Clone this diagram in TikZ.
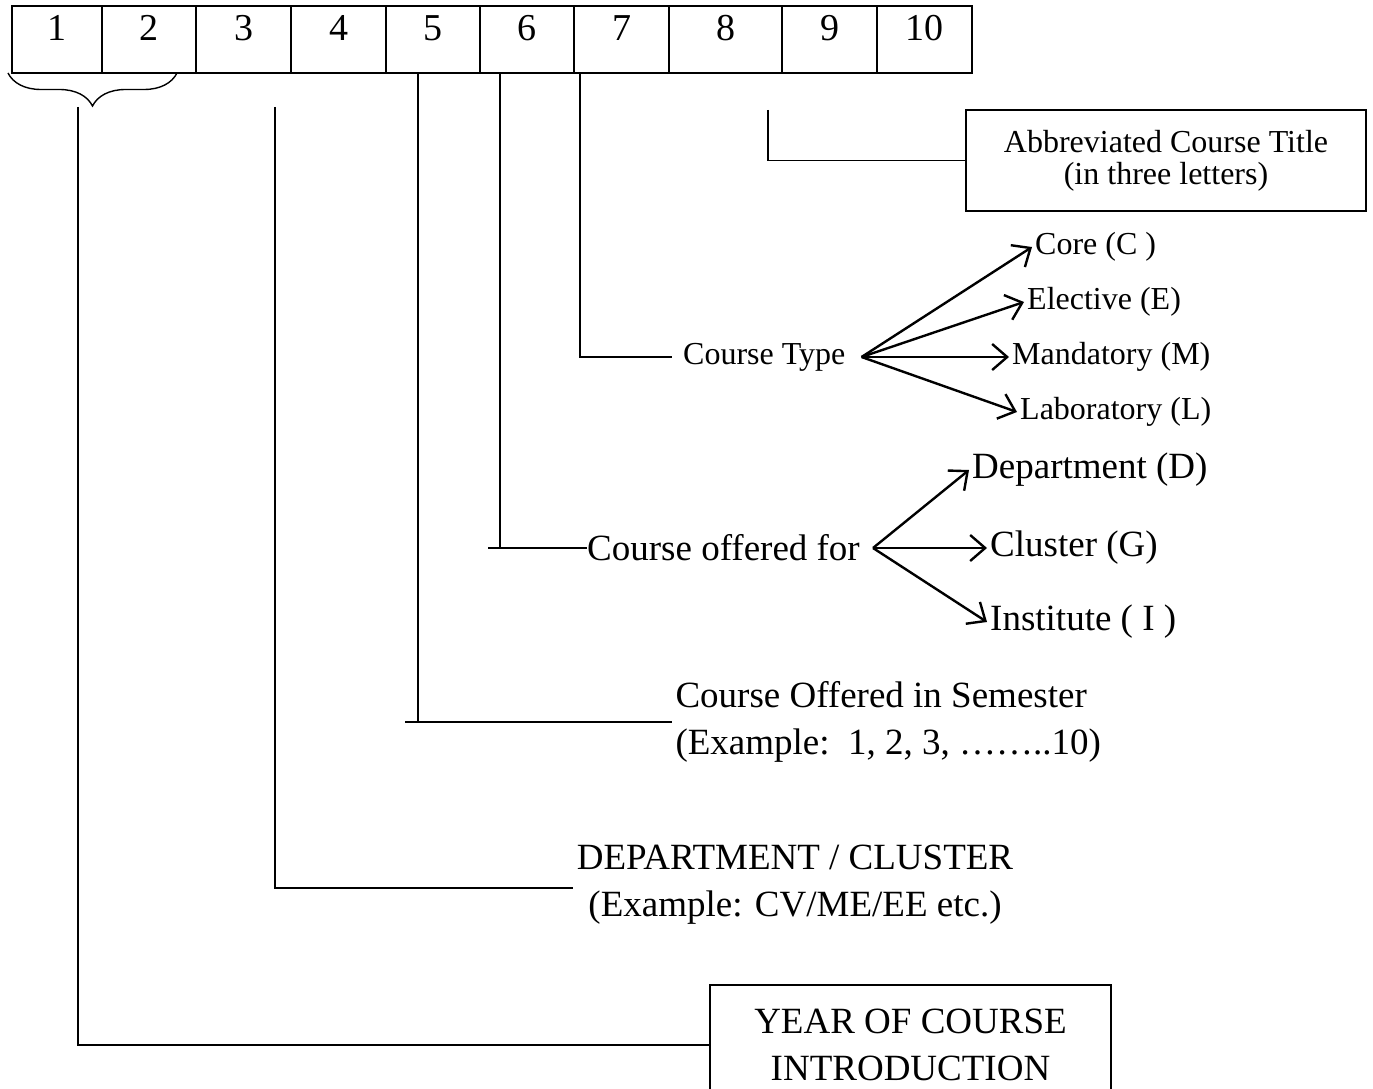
\documentclass[tikz,border=0pt]{standalone}
\usepackage{fontspec}
\setmainfont{Liberation Serif}
\usetikzlibrary{positioning,arrows.meta,decorations.pathreplacing}

\tikzset{
  cell/.style={draw, line width=1.6pt, minimum height=67pt, outer sep=0pt, inner sep=0pt,
    text height=26pt, text depth=23pt, font=\fontsize{38}{40}\selectfont},
  lead/.style={line width=1.4pt},
  fan/.style={line width=2.4pt, -{Straight Barb[length=15pt,width=26pt,line width=2.4pt]}},
  big/.style={font=\fontsize{37}{47}\selectfont},
  small/.style={font=\fontsize{32}{38}\selectfont},
  frame/.style={draw, line width=1.6pt},
}

\begin{document}
\begin{tikzpicture}[x=1pt,y=-1pt]
\useasboundingbox (0,0) rectangle (1373,1089);

% the ten places of the code
\node[cell, minimum width=90pt, anchor=north west] (c1) at (12,6) {1};
\node[cell, minimum width=94pt, right=0pt of c1] (c2) {2};
\node[cell, minimum width=95pt, right=0pt of c2] (c3) {3};
\node[cell, minimum width=95pt, right=0pt of c3] (c4) {4};
\node[cell, minimum width=94pt, right=0pt of c4] (c5) {5};
\node[cell, minimum width=94pt, right=0pt of c5] (c6) {6};
\node[cell, minimum width=95pt, right=0pt of c6] (c7) {7};
\node[cell, minimum width=113pt, right=0pt of c7] (c8) {8};
\node[cell, minimum width=95pt, right=0pt of c8] (c9) {9};
\node[cell, minimum width=95pt, right=0pt of c9] (c10) {10};

\draw[lead, decorate, decoration={brace, amplitude=33pt}] (177,73) -- (8,73);

% year
\node[frame, big, align=center, minimum width=401pt, minimum height=120pt] (yearbox) at (910.5,1045) {YEAR OF COURSE\\INTRODUCTION};
\coordinate (yrtop) at (78,107);
\draw[lead] (yrtop) |- (yearbox.west);

% department
\node[big, align=center] (deptnode) at (795,885) {DEPARTMENT / CLUSTER\\(Example: CV/ME/EE etc.)};
\coordinate (t3) at (275,107);
\draw[lead] (t3) |- ([yshift=-3pt]deptnode.west);

% semester
\node[big, align=left, anchor=west] (semnode) at (672,722) {Course Offered in Semester\\(Example:\ \ 1, 2, 3, ……..10)};
\coordinate (t5) at (418,73);
\draw[lead] (t5) -- (t5 |- semnode.west);
\draw[lead] ([xshift=-13pt]t5 |- semnode.west) -- (semnode.west);

% offered for
\node[big, anchor=west, inner xsep=0pt] (offer) at (587,548) {Course offered for};
\coordinate (t6) at (500,73);
\draw[lead] (t6) -- (t6 |- offer.west);
\draw[lead] ([xshift=-12pt]t6 |- offer.west) -- (offer.west);
\coordinate (offan) at ([xshift=13pt]offer.east);
\node[big, anchor=west, inner xsep=3pt] (dep) at (969,470) {Department (D)};
\node[big, anchor=west, inner xsep=3pt] (clu) at (987,548) {Cluster (G)};
\node[big, anchor=west, inner xsep=3pt] (ins) at (987,622) {Institute ( I )};
\draw[fan] (offan) -- (dep.west);
\draw[fan] (offan) -- (clu.west);
\draw[fan] (offan) -- (ins.west);

% course type
\node[small, anchor=west, inner xsep=0pt] (ctype) at (683,357) {Course Type};
\coordinate (t7) at (580,73);
\draw[lead] (t7) |- ([xshift=-11pt]ctype.west);
\coordinate (ctfan) at ([xshift=16pt]ctype.east);
\node[small, anchor=west, inner xsep=3pt] (core) at (1032,247) {Core (C )};
\node[small, anchor=west, inner xsep=3pt] (elec) at (1024,302) {Elective (E)};
\node[small, anchor=west, inner xsep=3pt] (mand) at (1009,357) {Mandatory (M)};
\node[small, anchor=west, inner xsep=3pt] (lab) at (1017,412) {Laboratory (L)};
\draw[fan] (ctfan) -- (core.west);
\draw[fan] (ctfan) -- (elec.west);
\draw[fan] (ctfan) -- (mand.west);
\draw[fan] (ctfan) -- (lab.west);

% abbreviated title
\node[frame, align=center, font=\fontsize{32}{32}\selectfont, minimum width=400pt, minimum height=101pt] (abbr) at (1166,160.5) {Abbreviated Course Title\\(in three letters)};
\coordinate (t8) at (768,110);
\draw[lead] (t8) |- (abbr.west);
\end{tikzpicture}
\end{document}
